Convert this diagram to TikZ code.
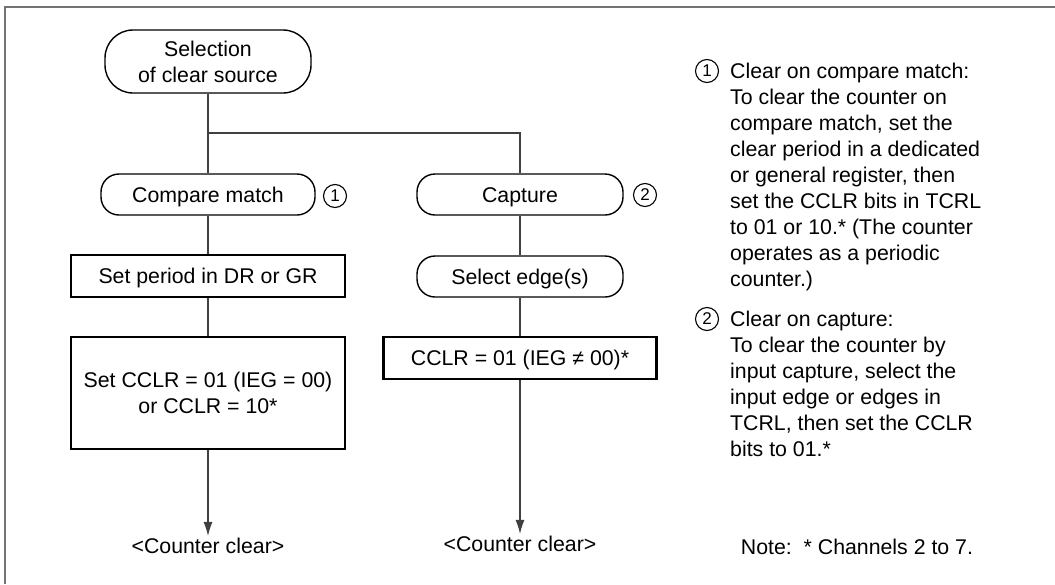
\documentclass[tikz,border=0pt]{standalone}
\usepackage{fontspec}
\setmainfont{Liberation Sans}
\usetikzlibrary{arrows.meta, positioning, calc}
\newcommand{\lbl}{\fontsize{21.3pt}{26pt}\selectfont}
\tikzset{
  term/.style={draw, line width=1.4pt, rounded corners=18pt, minimum width=206pt, minimum height=41pt, inner sep=0pt, font=\lbl},
  proc/.style={draw, line width=2.8pt, minimum width=274pt, minimum height=42pt, inner sep=0pt, font=\lbl},
  oneline/.style={text height=19.5pt, text depth=4.5pt},
  conn/.style={line width=1.3pt, draw=black!75},
  num/.style={draw, circle, line width=1.1pt, minimum size=23pt, inner sep=0pt, font=\fontsize{17pt}{17pt}\selectfont},
  notetext/.style={align=left, inner sep=0pt, font=\lbl}
}

\begin{document}
\begin{tikzpicture}[x=1pt, y=-1pt]
        \useasboundingbox (0, 0) rectangle (1055, 584);
        \draw[line width=1.8pt, black!55] (5, 584) -- (5, 7) -- (1055, 7);

        % Start
        \node[term, rounded corners=28pt, minimum height=63pt, align=center] (start) at (208, 61.5) {Selection\\of clear source};
        \coordinate (fork) at (208, 133);

        % Compare match branch
        \node[term, oneline, minimum width=214pt] (cm) at (208, 194.5) {Compare match};
        \node[num] (n1) at (335, 196) {1};
        \node[proc, oneline] (period) at (208, 276) {Set period in DR or GR};
        \node[proc, minimum height=112pt, align=center] (setcclr) at (208, 393) {Set CCLR = 01 (IEG = 00)\\or CCLR = 10*};
        \node[font=\lbl, inner sep=2pt] (clrA) at (208, 546) {<Counter clear>};

        % Capture branch
        \node[term, oneline] (cap) at (520, 194.5) {Capture};
        \node[num] (n2) at (645, 195) {2};
        \node[term, oneline] (edge) at (520, 276.5) {Select edge(s)};
        \node[proc, oneline, minimum width=273pt] (cclr) at (520, 358) {CCLR = 01 (IEG ≠ 00)*};
        \node[font=\lbl, inner sep=2pt] (clrB) at (520, 544) {<Counter clear>};

        % Connectors
        \draw[conn] (start) -- (cm);
        \draw[conn] (fork) -| (cap);
        \draw[conn] (cm) -- (period);
        \draw[conn] (period) -- (setcclr);
        \draw[conn, -{Latex[length=14pt, width=9pt]}] (setcclr) -- (clrA.north);
        \draw[conn] (cap) -- (edge);
        \draw[conn] (edge) -- (cclr);
        \draw[conn, -{Latex[length=14pt, width=9pt]}] (cclr) -- (clrB.north);

        % Notes
        \node[num] (m1) at (707, 71) {1};
        \node[notetext, anchor=north west] (note1) at (730, 63) {Clear on compare match:\\To clear the counter on\\compare match, set the\\clear period in a dedicated\\or general register, then\\set the CCLR bits in TCRL\\to 01 or 10.* (The counter\\operates as a periodic\\counter.)};
        \node[num] (m2) at (707, 319) {2};
        \node[notetext, anchor=north west] (note2) at (730, 311) {Clear on capture:\\To clear the counter by\\input capture, select the\\input edge or edges in\\TCRL, then set the CCLR\\bits to 01.*};
        \node[font=\lbl, inner sep=0pt] (chnote) at (857, 547) {Note:\ \ * Channels 2 to 7.};
    \end{tikzpicture}
\end{document}
